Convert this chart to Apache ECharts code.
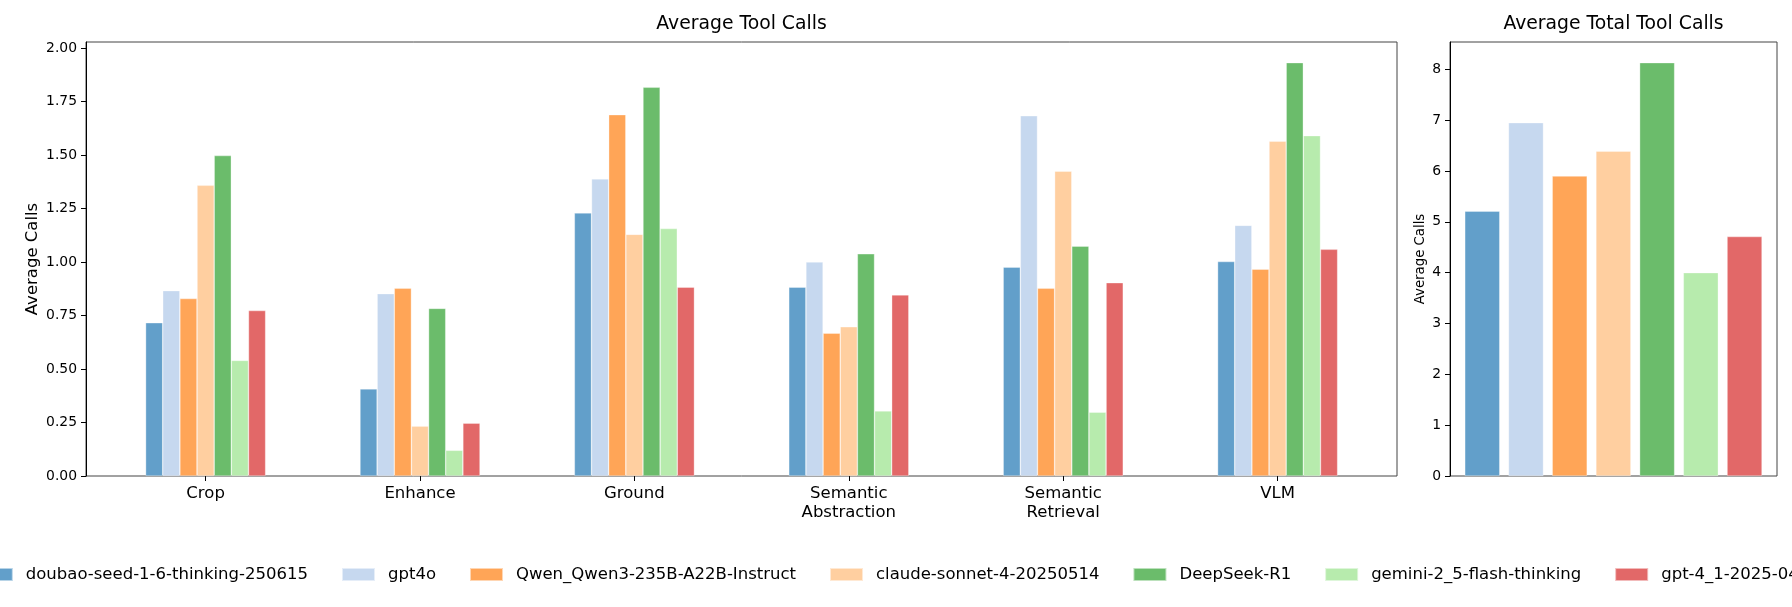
<!DOCTYPE html>
<html>
<head>
<meta charset="utf-8">
<script src="https://cdn.jsdelivr.net/npm/echarts@6/dist/echarts.min.js"></script>
<style>html,body{margin:0;padding:0;background:#fff;}#c{width:1792px;height:607px;}</style>
</head>
<body>
<div id="c"></div>
<script>
// ---- data ----
const categories = ['Crop', 'Enhance', 'Ground', 'Semantic\nAbstraction', 'Semantic\nRetrieval', 'VLM'];
const models = ['doubao-seed-1-6-thinking-250615', 'gpt4o', 'Qwen_Qwen3-235B-A22B-Instruct', 'claude-sonnet-4-20250514', 'DeepSeek-R1', 'gemini-2_5-flash-thinking', 'gpt-4_1-2025-04-14'];
const doubao   = [0.716, 0.407, 1.229, 0.882, 0.976, 1.002];
const gpt4o    = [0.866, 0.852, 1.388, 1.000, 1.683, 1.171];
const qwen     = [0.829, 0.877, 1.688, 0.667, 0.877, 0.966];
const claude   = [1.358, 0.233, 1.129, 0.697, 1.424, 1.564];
const deepseek = [1.497, 0.783, 1.816, 1.038, 1.074, 1.931];
const gemini   = [0.540, 0.120, 1.156, 0.304, 0.298, 1.590];
const gpt41    = [0.773, 0.247, 0.882, 0.846, 0.903, 1.059];
const totals   = [5.21, 6.95, 5.90, 6.39, 8.13, 4.00, 4.71];
const leftTicks = [0, 0.25, 0.5, 0.75, 1.0, 1.25, 1.5, 1.75, 2.0];
const rightTicks = [0, 1, 2, 3, 4, 5, 6, 7, 8];

const perCategory = [doubao, gpt4o, qwen, claude, deepseek, gemini, gpt41];
const colors = ['#629fca', '#c6d8ef', '#ffa557', '#ffcfa0', '#6bbc6b', '#b7ebad', '#e26868'];
const FONT = 'DejaVu Sans';

const leftMax = Math.max(...perCategory.flat()) * 1.05;
const rightMax = Math.max(...totals) * 1.05;

const series = [];
models.forEach((m, i) => {
  series.push({
    name: m, type: 'bar', xAxisIndex: 1, yAxisIndex: 1,
    data: perCategory[i], barWidth: 17.15, barGap: '0%',
    itemStyle: { color: colors[i], borderColor: 'rgba(255,255,255,0.55)', borderWidth: 0.6 },
    emphasis: { disabled: true }
  });
});
models.forEach((m, i) => {
  series.push({
    name: m, type: 'bar', xAxisIndex: 3, yAxisIndex: 3,
    data: totals.map((v, j) => (j === i ? v : null)), barWidth: 35, barGap: '-100%',
    itemStyle: { color: colors[i], borderColor: 'rgba(255,255,255,0.55)', borderWidth: 0.6 },
    emphasis: { disabled: true }
  });
});

const tickStyle = { show: true, length: 5, lineStyle: { color: '#000', width: 1 } };

const option = {
  animation: false,
  backgroundColor: '#fff',
  textStyle: { fontFamily: FONT },
  title: [
    { text: 'Average Tool Calls', left: 741.5, top: 15, textAlign: 'center', padding: 0,
      textStyle: { fontFamily: FONT, fontSize: 18.8, fontWeight: 'normal', color: '#000' } },
    { text: 'Average Total Tool Calls', left: 1613.5, top: 15, textAlign: 'center', padding: 0,
      textStyle: { fontFamily: FONT, fontSize: 18.8, fontWeight: 'normal', color: '#000' } }
  ],
  legend: {
    data: models, left: -21.2, top: 565, width: 2400, orient: 'horizontal', padding: 0,
    icon: 'rect', itemWidth: 33, itemHeight: 13, itemGap: 33,
    textStyle: { fontFamily: FONT, fontSize: 16.5, color: '#000', lineHeight: 19, padding: [0, 0, 0, 8] }
  },
  grid: [
    { left: 86, top: 42, width: 1311, height: 434, show: true, borderColor: '#444', borderWidth: 1, backgroundColor: 'transparent' },
    { left: 98.4, top: 42, width: 1286.4, height: 434 },
    { left: 1450, top: 42, width: 327, height: 434, show: true, borderColor: '#444', borderWidth: 1, backgroundColor: 'transparent' },
    { left: 1460.4, top: 42, width: 306, height: 434 }
  ],
  xAxis: [
    { type: 'category', gridIndex: 0, data: categories, show: false },
    { type: 'category', gridIndex: 1, data: categories,
      axisLine: { show: false }, axisTick: { show: true, alignWithLabel: true, length: 5, lineStyle: { color: '#000' } },
      axisLabel: { fontFamily: FONT, fontSize: 16.5, color: '#000', margin: 8, lineHeight: 19, interval: 0 } },
    { type: 'category', gridIndex: 2, data: models, show: false },
    { type: 'category', gridIndex: 3, data: models, show: false }
  ],
  yAxis: [
    { type: 'value', gridIndex: 0, min: 0, max: leftMax, interval: 0.25,
      axisLine: { show: true, lineStyle: { color: '#000' } }, axisTick: tickStyle, splitLine: { show: false },
      axisLabel: { fontFamily: FONT, fontSize: 13.9, color: '#000', margin: 9, showMaxLabel: false,
        formatter: v => leftTicks.some(t => Math.abs(t - v) < 1e-9) ? v.toFixed(2) : '' },
      name: 'Average Calls', nameLocation: 'middle', nameGap: 45, nameMoveOverlap: false,
      nameTextStyle: { fontFamily: FONT, fontSize: 16.5, color: '#000' } },
    { type: 'value', gridIndex: 1, min: 0, max: leftMax, show: false, splitLine: { show: false } },
    { type: 'value', gridIndex: 2, min: 0, max: rightMax, interval: 1,
      axisLine: { show: true, lineStyle: { color: '#000' } }, axisTick: tickStyle, splitLine: { show: false },
      axisLabel: { fontFamily: FONT, fontSize: 13.9, color: '#000', margin: 9, showMaxLabel: false,
        formatter: v => rightTicks.includes(v) ? String(v) : '' },
      name: 'Average Calls', nameLocation: 'middle', nameGap: 23, nameMoveOverlap: false,
      nameTextStyle: { fontFamily: FONT, fontSize: 13.3, color: '#000' } },
    { type: 'value', gridIndex: 3, min: 0, max: rightMax, show: false, splitLine: { show: false } }
  ],
  series: series
};

const chart = echarts.init(document.getElementById('c'), null, { renderer: 'canvas' });
chart.setOption(option);
</script>
</body>
</html>
